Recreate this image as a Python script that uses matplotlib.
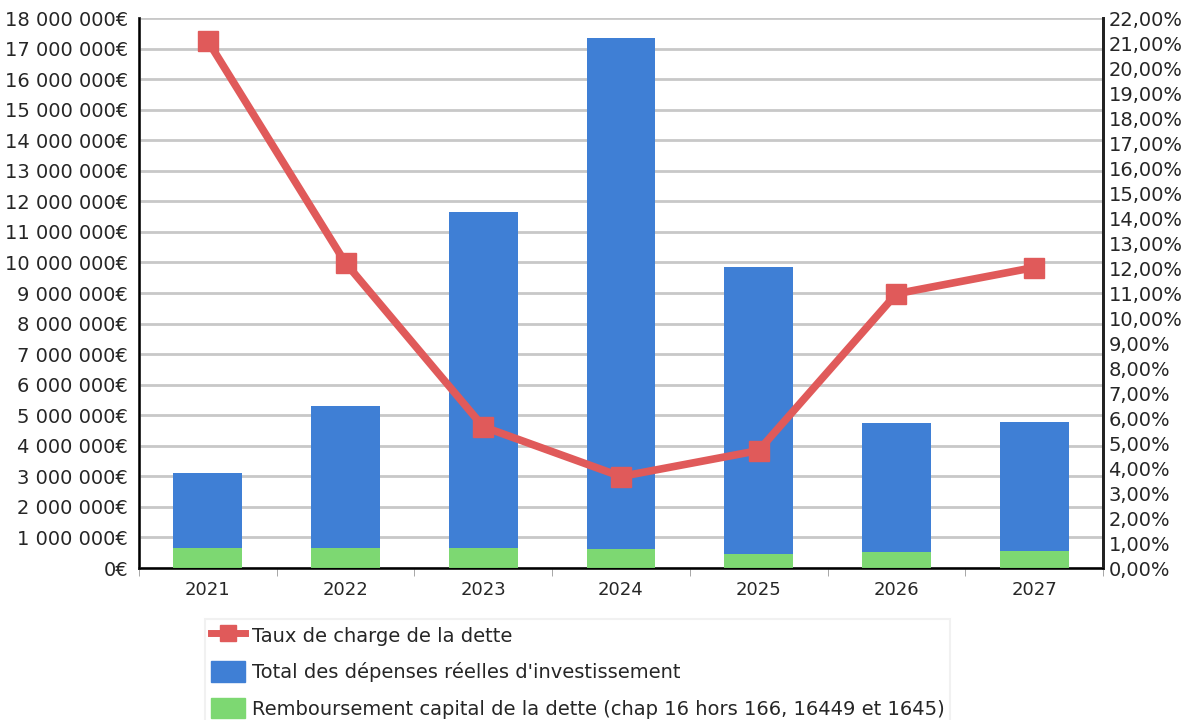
import matplotlib
matplotlib.use("Agg")
import matplotlib.pyplot as plt
from matplotlib.ticker import FuncFormatter, MultipleLocator, FixedLocator
from matplotlib.lines import Line2D
from matplotlib.patches import Patch

# donnees du graphique
annees = ["2021", "2022", "2023", "2024", "2025", "2026", "2027"]
depenses_invest = [3120000, 5300000, 11650000, 17340000, 9850000, 4740000, 4770000]
remb_capital = [650000, 650000, 650000, 610000, 450000, 520000, 560000]
taux_charge = [21.08, 12.2, 5.65, 3.66, 4.7, 10.97, 12.02]

bleu = "#3f7fd5"
vert = "#7dd872"
rouge = "#e05a5a"
texte = "#262626"

plt.rcParams["font.family"] = ["DejaVu Sans"]

fig = plt.figure(figsize=(11.92, 7.2), dpi=100)
ax = fig.add_axes([0.1166, 0.2111, 0.8087, 0.7639])

x = list(range(len(annees)))
ax.bar(x, depenses_invest, width=0.5, color=bleu, zorder=2)
ax.bar(x, remb_capital, width=0.5, color=vert, zorder=3)

ax.set_xlim(-0.5, len(annees) - 0.5)
ax.set_ylim(0, 18000000)
ax.yaxis.set_major_locator(MultipleLocator(1000000))


def euros(v, pos):
    return "{:,.0f}€".format(v).replace(",", " ")


ax.yaxis.set_major_formatter(FuncFormatter(euros))
ax.grid(axis="y", color="#c8c8c8", linewidth=2, zorder=0)
ax.set_axisbelow(True)

ax.set_xticks(x)
ax.set_xticklabels(annees)
ax.xaxis.set_minor_locator(FixedLocator([i - 0.5 for i in range(len(annees) + 1)]))
ax.tick_params(axis="x", which="major", length=0, pad=9, labelsize=13, labelcolor=texte)
ax.tick_params(axis="x", which="minor", length=6, color="#999999")
ax.tick_params(axis="y", length=0, pad=8, labelsize=14, labelcolor=texte)

for s in ["left", "right", "bottom"]:
    ax.spines[s].set_linewidth(2)
    ax.spines[s].set_color("#222222")
ax.spines["top"].set_visible(False)

# axe secondaire pour le taux
ax2 = ax.twinx()
ax2.set_ylim(0, 22)
ax2.yaxis.set_major_locator(MultipleLocator(1))
ax2.yaxis.set_major_formatter(FuncFormatter(lambda v, p: "{:.2f}%".format(v).replace(".", ",")))
ax2.tick_params(axis="y", length=0, pad=4, labelsize=14, labelcolor=texte)
ax2.spines["top"].set_visible(False)
ax2.spines["right"].set_linewidth(2)
ax2.spines["right"].set_color("#222222")
ax2.plot(x, taux_charge, color=rouge, linewidth=5.5, marker="s", markersize=14, zorder=4)

handles = [
    Line2D([0], [0], color=rouge, linewidth=5, marker="s", markersize=12),
    Patch(color=bleu),
    Patch(color=vert),
]
labels = [
    "Taux de charge de la dette",
    "Total des dépenses réelles d'investissement",
    "Remboursement capital de la dette (chap 16 hors 166, 16449 et 1645)",
]
leg = fig.legend(handles, labels, loc="upper left", bbox_to_anchor=(0.172, 0.14),
                 frameon=True, fancybox=False, edgecolor="#eeeeee", fontsize=14,
                 handlelength=1.75, handleheight=1.25, handletextpad=0.35,
                 labelspacing=0.8, borderaxespad=0, borderpad=0.3)
leg.get_frame().set_linewidth(1.5)
for t in leg.get_texts():
    t.set_color(texte)

fig.savefig("out.png", dpi=100, facecolor="white")
